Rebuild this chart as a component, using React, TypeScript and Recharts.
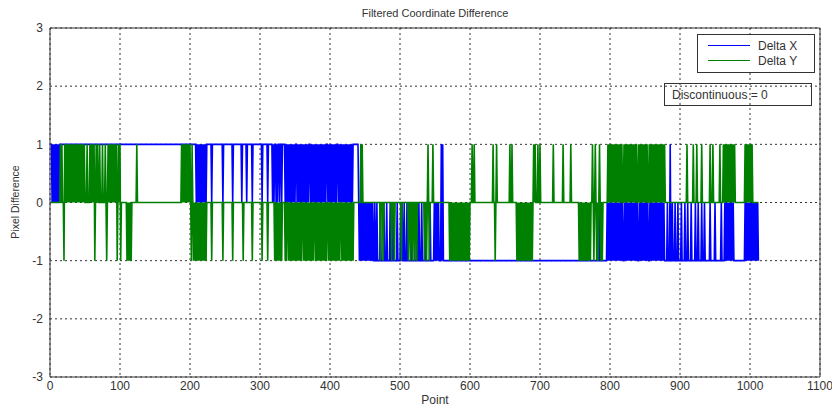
import React from "react";
import { LineChart, Line, XAxis, YAxis, CartesianGrid, ReferenceLine } from "recharts";

// Filtered coordinate difference: two integer step series (-1/0/1) over ~1012 points.
// Values are stored as levels plus the indices where a series leaves its level.

const POINT_COUNT = 1012;

const xTicks = [0, 100, 200, 300, 400, 500, 600, 700, 800, 900, 1000, 1100];
const yTicks = [-3, -2, -1, 0, 1, 2, 3];

// Delta X sits at +1 for the first part and at -1 afterwards
const deltaXLevels: [number, number, number][] = [
  [1, 440, 1],
  [441, 1012, -1],
];

// points where Delta X drops back to 0
const deltaXZero: number[] = [
  3, 5, 7, 9, 11, 13,
  209, 211, 213, 215, 217, 219, 221, 223,
  231, 247, 261, 274, 281, 289, 303, 311,
  318, 320, 323, 325, 328, 331,
  336, 338, 340, 342, 344, 346, 348, 350, 353, 355, 357, 359, 361, 363, 365, 367, 369,
  372, 374, 376, 378, 380, 382, 384, 386, 388, 390, 392, 394, 397, 399, 401, 403, 405,
  407, 409, 412, 414, 416, 418, 420, 422, 424, 426, 428, 430, 432,
  441, 443, 445, 447, 449, 451, 453, 455, 457, 459, 461, 464, 467, 472, 477, 481, 486,
  490, 496, 501, 503, 506, 510, 517, 524, 527, 531, 536, 543, 549, 551, 553, 555,
  784, 787,
  796, 798, 800, 802, 804, 806, 808, 810, 812, 814, 816, 818, 821, 823, 825, 827, 829,
  831, 833, 835, 837, 839, 842, 844, 846, 848, 850, 852, 854, 857, 859, 861, 863, 865,
  867, 869, 871, 873, 875, 877,
  882, 889, 893, 897, 902, 907, 911, 916, 922, 926, 931, 935, 943, 950, 959,
  964, 966, 968, 970, 972, 974, 976,
  993, 995, 997, 999, 1001, 1003, 1005, 1007, 1009, 1011,
];

// points where Delta X jumps up to +1 inside the -1 stretch
const deltaXUp: number[] = [559, 561, 886];

// Delta Y rests at 0
const deltaYUp: number[] = [
  15, 17,
  21, 23, 25, 27, 29, 31, 33, 35, 37, 39, 41, 43, 45, 47, 49, 53, 57, 59, 61, 63, 66, 68,
  71, 75,
  79, 83, 85, 87, 89, 91, 93, 95, 98, 100,
  124,
  188, 190, 192, 194, 196, 198, 200, 203,
  444, 446, 540, 547, 603, 606, 633, 638, 657, 660, 691, 693, 697, 700, 719, 733, 744,
  775, 779, 785,
  797, 799, 801, 803, 805, 807, 809, 811, 813, 815, 817, 820, 822, 824, 826, 828, 830,
  832, 834, 836, 838, 841, 843, 845, 847, 849, 851, 853, 856, 858, 860, 862, 864, 866,
  868, 870, 872, 874, 876, 878,
  910, 919, 924, 931, 943, 947, 957,
  962, 964, 966, 968, 970, 972, 974, 976, 978,
  993, 995, 997, 999, 1001, 1003,
];

const deltaYDown: number[] = [
  20, 64, 81, 96, 101, 110, 112, 114, 116,
  202, 205, 207, 209, 211, 213, 215, 217, 219, 221, 223,
  231, 247, 261, 276, 289, 303, 311,
  321, 323, 325, 327, 329, 331,
  336, 338, 341, 343, 345, 347, 349, 351, 353, 355, 357, 359, 362, 364, 366, 368, 370,
  372, 374, 376, 379, 381, 383, 385, 387, 389, 391, 393, 395, 398, 400, 402, 404, 406,
  408, 410, 412, 414, 417, 419, 421, 423, 425, 427, 429, 431, 433,
  472, 476, 488, 492, 502, 512, 515, 518, 521, 524, 535, 538, 542,
  571, 573, 575, 577, 579, 581, 583, 585, 587, 589, 591, 593, 595, 597, 599,
  636,
  667, 669, 671, 673, 675, 677, 679, 681, 683, 685, 687, 689,
  756, 758, 760, 762, 764, 766, 768, 770, 772, 777, 781, 783, 787, 789,
];

function buildRows() {
  const xZero = new Set(deltaXZero);
  const xUp = new Set(deltaXUp);
  const yUp = new Set(deltaYUp);
  const yDown = new Set(deltaYDown);
  const rows: { point: number; dx: number; dy: number }[] = [];
  for (let i = 1; i <= POINT_COUNT; i++) {
    const level = deltaXLevels.find(([a, b]) => i >= a && i <= b);
    let dx = level ? level[2] : 0;
    if (xZero.has(i)) dx = 0;
    if (xUp.has(i)) dx = 1;
    let dy = 0;
    if (yUp.has(i)) dy = 1;
    if (yDown.has(i)) dy = -1;
    rows.push({ point: i, dx, dy });
  }
  return rows;
}

const data = buildRows();

const BLUE = "#0000ff";
const GREEN = "#008000";
const INK = "#333";
const FONT = "'Liberation Sans', Arial, sans-serif";

const tickStyle = { fill: INK, fontSize: 12, fontFamily: FONT };

export default function App() {
  return (
    <div style={{ position: "absolute", left: 0, top: 0, width: 832, height: 409, background: "#fff", fontFamily: FONT }}>
      <LineChart width={832} height={409} data={data} margin={{ top: 28, right: 12, bottom: 2, left: 0 }}>
        <CartesianGrid stroke={INK} strokeDasharray="2 3" />
        <XAxis
          dataKey="point"
          type="number"
          domain={[0, 1100]}
          ticks={xTicks}
          interval={0}
          height={30}
          tick={tickStyle}
          tickLine={false}
          tickSize={2}
          axisLine={{ stroke: INK }}
        />
        <YAxis
          type="number"
          domain={[-3, 3]}
          ticks={yTicks}
          interval={0}
          width={50}
          tick={tickStyle}
          tickLine={false}
          tickSize={5}
          axisLine={{ stroke: INK }}
        />
        <ReferenceLine y={3} stroke={INK} />
        <ReferenceLine x={1100} stroke={INK} />
        <Line type="linear" dataKey="dx" stroke={BLUE} strokeWidth={1.6} dot={false} isAnimationActive={false} />
        <Line type="linear" dataKey="dy" stroke={GREEN} strokeWidth={1.6} dot={false} isAnimationActive={false} />
      </LineChart>

      <div style={{ position: "absolute", left: 0, width: 870, top: 7, textAlign: "center", fontSize: 11, color: INK }}>
        Filtered Coordinate Difference
      </div>
      <div style={{ position: "absolute", left: 0, width: 870, top: 393, textAlign: "center", fontSize: 12, color: INK }}>
        Point
      </div>
      <div
        style={{
          position: "absolute",
          left: 15,
          top: 202,
          transform: "translate(-50%, -50%) rotate(-90deg)",
          fontSize: 10.5,
          color: INK,
          whiteSpace: "nowrap",
        }}
      >
        Pixel Difference
      </div>

      <div
        style={{
          position: "absolute",
          left: 697,
          top: 34,
          width: 116,
          height: 37,
          border: `1px solid ${INK}`,
          background: "#fff",
          fontSize: 12,
          color: INK,
        }}
      >
        {[
          { label: "Delta X", color: BLUE },
          { label: "Delta Y", color: GREEN },
        ].map((s, i) => (
          <div key={s.label} style={{ position: "absolute", left: 10, top: 3 + i * 15, display: "flex", alignItems: "center", height: 15 }}>
            <span style={{ display: "inline-block", width: 42, height: 1, background: s.color, marginRight: 8 }} />
            <span>{s.label}</span>
          </div>
        ))}
      </div>

      <div
        style={{
          position: "absolute",
          left: 664,
          top: 83,
          width: 148,
          height: 23,
          border: `1px solid ${INK}`,
          fontSize: 12,
          color: INK,
          lineHeight: "23px",
          paddingLeft: 7,
          boxSizing: "border-box",
        }}
      >
        Discontinuous = 0
      </div>
    </div>
  );
}
